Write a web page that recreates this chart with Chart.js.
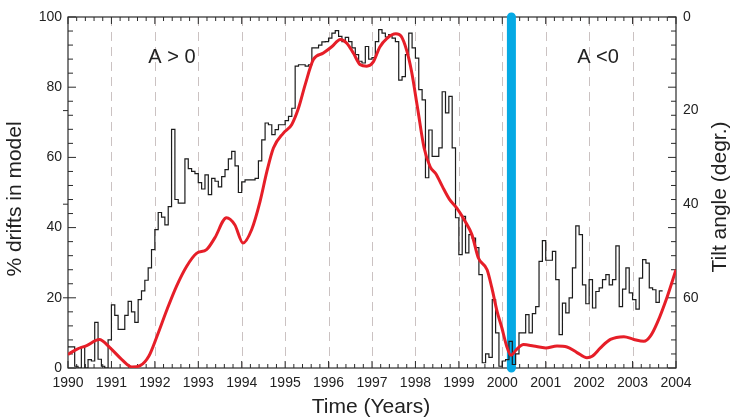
<!DOCTYPE html>
<html>
<head>
<meta charset="utf-8">
<script src="https://cdn.jsdelivr.net/npm/chart.js@4.4.1/dist/chart.umd.min.js"></script>
<style>
html, body { margin: 0; padding: 0; background: #fff; }
#wrap { width: 736px; height: 420px; }
</style>
</head>
<body>
<div id="wrap"><canvas id="chart" width="736" height="420"></canvas></div>
<script>
// histogram: % of drifts in model, one value per bin (13 bins per year, from 1990.0)
const binStart = 1990;
const binsPerYear = 13;
const driftPct = [
    6, 6, 6, 0.5, 0, 6, 0, 2.4, 2, 13, 2.5, 0.5, 0,                       // 1990
    8, 18, 15, 11, 11, 15, 19, 16, 13, 19.5, 22, 25, 28.5,                // 1991
    33.7, 39.4, 44.3, 43, 40.8, 46, 68, 48, 47, 47, 59.6, 56.8, 56,       // 1992
    55.4, 52.8, 51, 55, 49.4, 54, 53.2, 51.6, 54.5, 56.5, 59.6, 61.7, 57.6, // 1993
    50, 53, 53.6, 53.6, 53.6, 54, 59, 65, 69.8, 69.3, 66.5, 67.9, 69.3,   // 1994
    69.3, 70.5, 71.7, 74, 86, 86.4, 86.4, 86, 86.4, 91.2, 91.2, 92, 92.9, // 1995
    93, 94, 95.4, 96.1, 94.5, 93, 94.2, 93, 91.2, 89.3, 87.4, 86.9, 91.6, // 1996
    88, 88.4, 93, 96.4, 95.4, 94.3, 95, 94, 93, 82, 83, 89.3, 95.4,       // 1997
    91.2, 88.3, 79.3, 76.4, 54.2, 67.8, 60.3, 60.3, 62.7, 78.7, 72.7, 77.4, 62.7, // 1998
    42.8, 32.3, 43.2, 32.8, 38, 37, 34.3, 26.6, 1.5, 4, 3, 19.5, 10,      // 1999
    0.5, 2, 2.4, 7.6, 1, 4, 10, 10, 15.2, 10, 15.5, 17.5, 30.4,           // 2000
    36.3, 30.7, 30.7, 33.2, 25.2, 9.5, 18.5, 15.7, 20, 28.5, 40.5, 38, 23.7, // 2001
    18.3, 25.2, 17.1, 21.8, 22.8, 25.2, 26.6, 23.7, 25.2, 34.8, 17.5, 22.5, 28.5, // 2002
    21.4, 19.5, 16.8, 25.6, 30.9, 29.9, 22.8, 22.3, 18.7                  // 2003
];
const driftEnd = 22;

// tilt angle of the heliospheric current sheet (right axis, degrees)
const tiltYear = [
    1990.0, 1990.2, 1990.43, 1990.72, 1990.97, 1991.24, 1991.47, 1991.66, 1991.86,
    1992.05, 1992.28, 1992.5, 1992.73, 1992.96, 1993.19, 1993.38, 1993.65, 1993.84,
    1994.03, 1994.23, 1994.42, 1994.58, 1994.73, 1994.96, 1995.15, 1995.31, 1995.46,
    1995.65, 1995.88, 1996.08, 1996.27, 1996.42, 1996.57, 1996.73, 1996.88, 1997.03,
    1997.18, 1997.34, 1997.55, 1997.67, 1997.8, 1997.91, 1998.05, 1998.2, 1998.34,
    1998.47, 1998.62, 1998.78, 1998.95, 1999.14, 1999.3, 1999.45, 1999.65, 1999.76,
    1999.88, 1999.99, 2000.1, 2000.2, 2000.33, 2000.49, 2000.72, 2001.0, 2001.26,
    2001.49, 2001.72, 2001.95, 2002.07, 2002.26, 2002.49, 2002.8, 2003.03, 2003.26,
    2003.41, 2003.57, 2003.8, 2004.0
];
const tiltAngle = [
    72.1, 71.0, 70.2, 68.9, 70.7, 73.2, 74.8, 74.5, 72.5,
    68.2, 62.5, 57.5, 53.3, 50.5, 49.7, 47.2, 42.9, 44.4,
    48.3, 45.4, 39.5, 33, 28, 24.8, 23, 19.4, 14.5,
    9.1, 7.7, 6.3, 4.8, 5.6, 7.7, 10.2, 10.5, 9.6,
    6.4, 4.6, 3.6, 4.1, 7.2, 11.6, 19.5, 28, 32,
    33.5, 36.2, 38.9, 40.8, 43.6, 46.5, 51.5, 54, 57.9,
    62.9, 66.4, 70.3, 72.3, 71, 70, 70.3, 70.7, 70.3,
    70.5, 71.7, 72.8, 72.5, 70.7, 68.9, 68.3, 68.9, 69.3,
    68.2, 65.3, 59.7, 54
];

// polarity reversal marker
const reversalYear = 2000.21;

const yearTicks = [1990, 1991, 1992, 1993, 1994, 1995, 1996, 1997, 1998, 1999, 2000, 2001, 2002, 2003, 2004];
const pctTicks = [0, 20, 40, 60, 80, 100];
const tiltTicks = [0, 20, 40, 60];

const FONT = '"Liberation Sans", Arial, Helvetica, sans-serif';
const INK = '#222';

// punctele histogramei (treaptă după fiecare început de bin)
const histPoints = driftPct.map((v, i) => ({ x: binStart + i / binsPerYear, y: v }));
histPoints.push({ x: binStart + driftPct.length / binsPerYear, y: driftEnd });

const tiltPoints = tiltYear.map((x, i) => ({ x: x, y: tiltAngle[i] }));

// cadru, liniuțe de grilă, gradații
const framePlugin = {
    id: 'frame',
    beforeDatasetsDraw(chart) {
        const { ctx, chartArea: a, scales } = chart;
        const sx = scales.x, sy = scales.y, s2 = scales.y2;
        ctx.save();

        // dashed year lines
        ctx.strokeStyle = '#cbc2c2';
        ctx.lineWidth = 1;
        ctx.setLineDash([9, 6]);
        yearTicks.slice(1, -1).forEach(yr => {
            const x = Math.round(sx.getPixelForValue(yr)) + 0.5;
            ctx.beginPath();
            ctx.moveTo(x, a.top);
            ctx.lineTo(x, a.bottom);
            ctx.stroke();
        });
        ctx.setLineDash([]);

        ctx.strokeStyle = '#2a2a2a';
        ctx.lineWidth = 1.2;
        ctx.strokeRect(a.left, a.top, a.right - a.left, a.bottom - a.top);

        ctx.lineWidth = 1;
        ctx.beginPath();
        // top and bottom ticks, every 0.2 year
        for (let i = 0; i <= 70; i++) {
            const x = sx.getPixelForValue(1990 + i * 0.2);
            const len = i % 5 === 0 ? 7 : 4;
            ctx.moveTo(x, a.bottom);
            ctx.lineTo(x, a.bottom - len);
            ctx.moveTo(x, a.top);
            ctx.lineTo(x, a.top + len);
        }
        // left and right ticks, every 4 %
        for (let v = 0; v <= 100; v += 4) {
            const y = sy.getPixelForValue(v);
            const len = v % 20 === 0 ? 8 : 5;
            ctx.moveTo(a.left, y);
            ctx.lineTo(a.left + len, y);
            ctx.moveTo(a.right, y);
            ctx.lineTo(a.right - len, y);
        }
        // small outward ticks for the tilt labels
        tiltTicks.slice(1).forEach(t => {
            const y = s2.getPixelForValue(t);
            ctx.moveTo(a.left, y);
            ctx.lineTo(a.left - 5, y);
        });
        ctx.stroke();
        ctx.restore();
    },
    afterDraw(chart) {
        const { ctx } = chart;
        ctx.save();
        ctx.fillStyle = INK;
        ctx.textAlign = 'center';
        ctx.textBaseline = 'middle';

        ctx.font = '20px ' + FONT;
        ctx.fillText('A > 0', 172, 57);
        ctx.fillText('A <0', 598, 57);

        ctx.font = '21px ' + FONT;
        ctx.fillText('Time (Years)', 371, 407);

        ctx.translate(15, 199);
        ctx.rotate(-Math.PI / 2);
        ctx.fillText('% drifts in model', 0, 0);
        ctx.restore();

        ctx.save();
        ctx.fillStyle = INK;
        ctx.textAlign = 'center';
        ctx.textBaseline = 'middle';
        ctx.font = '21px ' + FONT;
        ctx.translate(720, 197);
        ctx.rotate(-Math.PI / 2);
        ctx.fillText('Tilt angle (degr.)', 0, 0);
        ctx.restore();
    }
};

const tickFont = { family: FONT, size: 14 };

new Chart(document.getElementById('chart'), {
    type: 'line',
    data: {
        datasets: [
            {
                data: tiltPoints,
                yAxisID: 'y2',
                borderColor: '#e61e28',
                borderWidth: 3,
                pointRadius: 0,
                cubicInterpolationMode: 'monotone',
                fill: false
            },
            {
                data: histPoints,
                yAxisID: 'y',
                stepped: 'after',
                borderColor: '#1c1c1c',
                borderWidth: 1.2,
                pointRadius: 0,
                fill: false
            },
            {
                data: [{ x: reversalYear, y: 100 }, { x: reversalYear, y: 0 }],
                yAxisID: 'y',
                borderColor: '#05a9e4',
                borderWidth: 9,
                borderCapStyle: 'round',
                pointRadius: 0,
                clip: false,
                fill: false
            }
        ]
    },
    options: {
        responsive: false,
        animation: false,
        layout: { padding: { top: 17, left: 0, right: 0, bottom: 0 } },
        plugins: {
            legend: { display: false },
            tooltip: { enabled: false }
        },
        scales: {
            x: {
                type: 'linear',
                position: 'bottom',
                min: 1990,
                max: 2004,
                grid: { display: false, drawTicks: false },
                border: { display: false },
                afterBuildTicks: s => { s.ticks = yearTicks.map(v => ({ value: v })); },
                afterFit: s => { s.height = 52; },
                ticks: {
                    callback: v => String(v),
                    font: tickFont,
                    color: INK,
                    padding: 7,
                    maxRotation: 0,
                    autoSkip: false
                }
            },
            y: {
                type: 'linear',
                position: 'left',
                min: 0,
                max: 100,
                grid: { display: false, drawTicks: false },
                border: { display: false },
                afterBuildTicks: s => { s.ticks = pctTicks.map(v => ({ value: v })); },
                afterFit: s => { s.width = 68; },
                ticks: { font: tickFont, color: INK, padding: 6 }
            },
            y2: {
                type: 'linear',
                position: 'right',
                min: 0,
                max: 75,
                reverse: true,
                grid: { display: false, drawTicks: false },
                border: { display: false },
                afterBuildTicks: s => { s.ticks = tiltTicks.map(v => ({ value: v })); },
                afterFit: s => { s.width = 60; },
                ticks: { font: tickFont, color: INK, padding: 7 }
            }
        }
    },
    plugins: [framePlugin]
});
</script>
</body>
</html>
